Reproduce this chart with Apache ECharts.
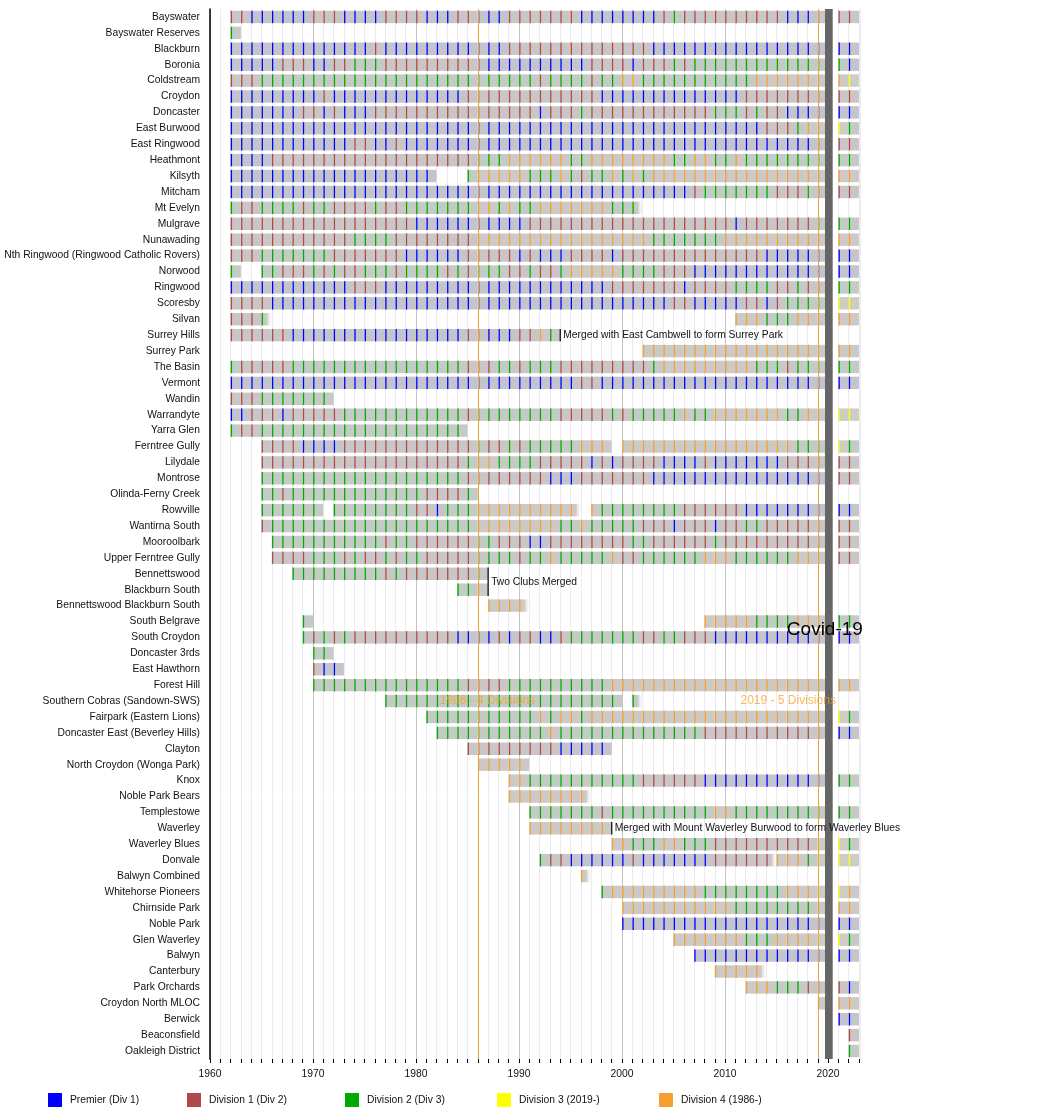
<!DOCTYPE html>
<html>
<head>
<meta charset="utf-8">
<script src="https://cdn.jsdelivr.net/npm/echarts@6/dist/echarts.min.js"></script>
<style>
  html, body {margin: 0; padding: 0; background: #fff;}
  #chart {width: 1050px; height: 1110px;}
</style>
</head>
<body>
<div id="chart"></div>
<script>
// club names, top to bottom
var clubs = ['Bayswater', 'Bayswater Reserves', 'Blackburn', 'Boronia', 'Coldstream', 'Croydon', 'Doncaster',
    'East Burwood', 'East Ringwood', 'Heathmont', 'Kilsyth', 'Mitcham', 'Mt Evelyn', 'Mulgrave', 'Nunawading',
    'Nth Ringwood (Ringwood Catholic Rovers)', 'Norwood', 'Ringwood', 'Scoresby', 'Silvan', 'Surrey Hills',
    'Surrey Park', 'The Basin', 'Vermont', 'Wandin', 'Warrandyte', 'Yarra Glen', 'Ferntree Gully', 'Lilydale',
    'Montrose', 'Olinda-Ferny Creek', 'Rowville', 'Wantirna South', 'Mooroolbark', 'Upper Ferntree Gully',
    'Bennettswood', 'Blackburn South', 'Bennettswood Blackburn South', 'South Belgrave', 'South Croydon',
    'Doncaster 3rds', 'East Hawthorn', 'Forest Hill', 'Southern Cobras (Sandown-SWS)', 'Fairpark (Eastern Lions)',
    'Doncaster East (Beverley Hills)', 'Clayton', 'North Croydon (Wonga Park)', 'Knox', 'Noble Park Bears',
    'Templestowe', 'Waverley', 'Waverley Blues', 'Donvale', 'Balwyn Combined', 'Whitehorse Pioneers',
    'Chirnside Park', 'Noble Park', 'Glen Waverley', 'Balwyn', 'Canterbury', 'Park Orchards',
    'Croydon North MLOC', 'Berwick', 'Beaconsfield', 'Oakleigh District'];

// first season of each club
var firstSeason = [1962, 1962, 1962, 1962, 1962, 1962, 1962, 1962, 1962, 1962, 1962, 1962, 1962, 1962, 1962,
    1962, 1962, 1962, 1962, 1962, 1962, 2002, 1962, 1962, 1962, 1962, 1962, 1965, 1965, 1965, 1965, 1965, 1965,
    1966, 1966, 1968, 1984, 1987, 1969, 1969, 1970, 1970, 1970, 1977, 1981, 1982, 1985, 1986, 1989, 1989,
    1991, 1991, 1999, 1992, 1996, 1998, 2000, 2000, 2005, 2007, 2009, 2012, 2019, 2021, 2022, 2022];

// season runs: division*count, P = Premier, 1-4 = Division 1-4, - = no team,
// C = 2020 (Covid, no season), ~ = the season before it fades out
var seasonRuns = [
    '1*2 P*6 1*3 P*4 1*4 P*3 1*2 P*3 1*7 P*8 1*1 2*1 1*10 P*3 1*1 C 1*2',
    '2*1',
    'P*14 1*1 P*12 1*14 P*17 C P*2',
    'P*5 1*3 P*2 1*2 2*3 1*9 P*11 1*4 P*1 1*3 2*1 1*1 2*13 C 2*1 P*1',
    '1*3 2*27 1*1 2*4 1*1 2*2 4*2 2*11 4*7 C 4*1 3*1',
    'P*9 1*1 P*13 1*13 P*14 1*8 C 1*2',
    'P*7 1*2 P*1 1*1 P*3 1*16 P*1 1*3 2*1 1*12 2*3 1*1 2*1 1*2 P*4 C P*2',
    'P*52 1*3 2*1 4*2 C 3*1 2*1',
    'P*12 1*2 P*2 1*1 P*40 1*1 C 1*2',
    'P*4 1*20 2*3 4*6 2*2 4*8 2*2 4*2 2*2 4*1 2*8 C 2*2',
    'P*20 -*3 2*1 4*5 2*3 4*1 2*1 1*1 2*2 4*1 2*1 4*1 2*1 4*17 C 4*2',
    'P*45 1*1 2*7 1*3 2*1 1*1 C 1*2',
    '2*1 1*2 2*4 1*1 2*2 1*4 2*1 1*2 2*7 4*2 2*1 4*1 2*2 4*7 2*3 ~',
    '1*18 P*11 1*20 P*1 1*7 2*1 C 2*2',
    '1*12 2*4 1*8 4*17 2*7 4*10 C 4*2',
    '1*3 2*7 1*7 P*6 1*5 P*1 1*1 P*3 1*4 P*1 1*14 P*6 C P*2',
    '2*1 -*2 2*2 1*3 2*1 1*1 2*1 1*2 2*3 1*1 2*4 1*1 2*1 1*1 2*3 1*2 2*1 1*2 2*1 4*5 2*4 1*3 P*13 C P*2',
    'P*12 1*3 P*22 1*7 P*1 1*4 2*4 1*2 2*1 1*2 C 2*2',
    '1*4 P*39 1*2 P*5 1*2 P*1 1*1 2*4 C 3*2',
    '1*3 2*1 ~ -*45 4*3 2*3 4*3 C 4*2',
    '1*6 P*17 1*2 P*3 1*2 4*1 2*1',
    '4*18 C 4*2',
    '2*1 1*5 2*17 1*3 2*2 1*1 2*3 1*9 2*1 4*9 2*3 1*1 2*3 C 2*2',
    'P*34 1*2 P*22 C P*2',
    '1*3 2*7',
    'P*2 1*3 P*1 1*5 2*12 1*1 2*8 1*5 2*1 1*1 2*5 4*1 2*2 4*7 2*2 4*2 C 3*2',
    '2*1 1*2 2*20',
    '1*4 P*4 1*13 2*1 1*2 2*1 1*1 2*5 4*3 -*1 4*17 2*3 C 3*1 2*1',
    '1*20 2*1 4*2 2*4 1*5 P*1 1*1 P*1 1*4 P*4 1*1 P*7 1*4 C 1*2',
    '2*20 1*8 P*3 1*7 P*17 C 1*2',
    '2*2 1*1 2*13 1*4 2*1',
    '2*6 -*1 2*8 1*2 P*1 2*3 4*10 ~ -*1 4*1 2*8 1*6 P*8 C P*2',
    '1*1 2*20 4*8 2*2 4*1 2*5 1*3 P*1 1*3 P*1 1*2 2*2 1*6 C 1*2',
    '2*11 1*1 2*2 1*6 2*2 1*3 P*2 1*8 2*2 1*6 2*1 1*10 C 1*2',
    '1*4 2*3 1*1 2*1 1*2 2*1 1*1 2*2 1*5 2*4 1*1 2*2 4*1 2*5 4*1 1*2 2*6 4*3 2*6 4*3 C 1*2',
    '2*9 1*1 2*1 1*7 2*1',
    '2*2 4*1',
    '4*4 ~',
    '2*1 -*38 4*5 2*4 4*3 C 2*2',
    '2*1 1*1 2*1 1*1 2*1 1*10 P*4 1*1 P*1 1*2 P*2 1*1 2*7 1*2 2*2 1*3 P*11 C P*2',
    '2*2',
    '1*1 P*2',
    '2*15 1*4 2*10 4*21 C 4*2',
    '2*23 -*1 2*1 ~',
    '2*11 4*1 2*1 4*2 2*1 4*23 C 3*1 2*1',
    '2*11 4*1 2*14 1*12 C P*2',
    '1*9 P*5',
    '4*5',
    '4*2 2*11 1*6 P*12 C 2*2',
    '4*8 ~',
    '2*7 1*1 2*10 4*2 2*9 C 2*2',
    '4*8',
    '4*2 2*3 4*2 2*3 1*10 3*1 C 3*1 2*1',
    '2*1 1*2 P*6 1*1 P*7 1*6 ~ 4*3 2*1 3*1 C 3*2',
    '4*1 ~',
    '2*1 4*9 2*8 4*3 3*1 C 3*1 4*1',
    '4*11 2*8 4*1 C 4*2',
    'P*20 C P*2',
    '4*7 2*3 4*4 3*1 C 3*1 2*1',
    'P*13 C P*2',
    '4*5 ~',
    '4*3 2*3 1*2 C 1*1 P*1',
    '4*1 C 4*2',
    'P*2',
    '1*1',
    '2*1'
];

var divisionNames = ['Premier (Div 1)', 'Division 1 (Div 2)', 'Division 2 (Div 3)', 'Division 3 (2019-)', 'Division 4 (1986-)'];
var divisionCodes = ['P', '1', '2', '3', '4'];

// merge notes: year of the line, first row, last row, text
var noteYears = [1994, 1987, 1999];
var noteFirstRow = ['Surrey Hills', 'Bennettswood', 'Waverley'];
var noteLastRow = ['Surrey Hills', 'Blackburn South', 'Waverley'];
var noteTexts = ['Merged with East Cambwell to form Surrey Park', 'Two Clubs Merged',
    'Merged with Mount Waverley Burwood to form Waverley Blues'];

// era lines and labels
var eraYears = [1986, 2019];
var eraLabels = ['1986 - 4 Divisions', '2019 - 5 Divisions'];
var eraLabelYears = [1982.3, 2011.5];
var covidSpan = [2019.7, 2020.45];

var divColors = ['#0000ff', '#b04a4a', '#00aa00', '#ffff00', '#f5a030'];
var legendLeft = [48, 187, 345, 497, 659];
var font = 'Liberation Sans, Arial, sans-serif';

function mix(hex, base, t) {
    var a = parseInt(hex.slice(1), 16), b = parseInt(base.slice(1), 16);
    var c = [16, 8, 0].map(s => Math.round(((a >> s) & 255) * t + ((b >> s) & 255) * (1 - t)));
    return 'rgb(' + c.join(',') + ')';
}

var seasons = [];
clubs.forEach((name, row) => {
    var year = firstSeason[row];
    seasonRuns[row].split(' ').forEach(tok => {
        if (tok === 'C') { year++; return; }
        if (tok === '~') { seasons[seasons.length - 1][3] = 1; return; }
        var parts = tok.split('*');
        for (var i = 0; i < +parts[1]; i++) {
            if (parts[0] !== '-') seasons.push([year, row, divisionCodes.indexOf(parts[0]), 0]);
            year++;
        }
    });
});

var notes = noteTexts.map((t, i) => [noteYears[i], clubs.indexOf(noteFirstRow[i]), clubs.indexOf(noteLastRow[i]), i]);

function renderSeason(params, api) {
    var year = api.value(0), row = api.value(1), div = api.value(2), fade = api.value(3);
    var p0 = api.coord([year, row]);
    var p1 = api.coord([year + (fade ? 1.1 : 1), row]);
    var h = api.size([0, 1])[1] * 0.78;
    var gray = mix(divColors[div], '#cbcbcb', 0.035);
    var fill = fade ? new echarts.graphic.LinearGradient(0, 0, 1, 0, [
        {offset: 0, color: gray}, {offset: 0.45, color: gray}, {offset: 1, color: 'rgba(255,255,255,0)'}]) : gray;
    return {
        type: 'group',
        children: [
            {type: 'rect', shape: {x: p0[0], y: p0[1] - h / 2, width: p1[0] - p0[0], height: h},
                style: {fill: fill}},
            {type: 'line', shape: {x1: p0[0] + 0.8, y1: p0[1] - h / 2, x2: p0[0] + 0.8, y2: p0[1] + h / 2},
                style: {stroke: divColors[div], lineWidth: 1.3}}
        ]
    };
}

function renderNote(params, api) {
    var year = api.value(0), r0 = api.value(1), r1 = api.value(2), i = api.value(3);
    var a = api.coord([year, r0]), b = api.coord([year, r1]);
    var h = api.size([0, 1])[1] * 0.78;
    return {
        type: 'group',
        children: [
            {type: 'line', shape: {x1: a[0], y1: a[1] - h / 2, x2: a[0], y2: b[1] + h / 2},
                style: {stroke: '#000', lineWidth: 1.2}},
            {type: 'text', x: a[0] + 3, y: (a[1] + b[1]) / 2,
                style: {text: noteTexts[i], fill: '#111', font: '10.3px ' + font, verticalAlign: 'middle', align: 'left'}}
        ]
    };
}

function renderLabels(params, api) {
    var row = clubs.indexOf('Southern Cobras (Sandown-SWS)');
    var children = eraLabels.map((t, i) => {
        var p = api.coord([eraLabelYears[i], row]);
        return {type: 'text', x: p[0], y: p[1], style: {text: t, fill: 'rgba(245,160,40,0.75)',
            font: '12px ' + font, verticalAlign: 'middle', align: 'left'}};
    });
    var c = api.coord([2016.0, clubs.indexOf('South Belgrave')]);
    children.push({type: 'text', x: c[0], y: c[1] + 8, style: {text: 'Covid-19', fill: '#000',
        font: '19px ' + font, verticalAlign: 'middle', align: 'left'}});
    return {type: 'group', children: children};
}

var series = [
    {
        type: 'custom', name: 'seasons', data: seasons, renderItem: renderSeason, silent: true, z: 2,
        encode: {x: 0, y: 1},
        markLine: {
            silent: true, symbol: 'none', z: 5,
            lineStyle: {color: '#eda23a', width: 1, type: 'solid', opacity: 1},
            label: {show: false},
            data: eraYears.map(y => ({xAxis: y}))
        },
        markArea: {
            silent: true, z: 6,
            itemStyle: {color: '#666666', opacity: 1},
            data: [[{xAxis: covidSpan[0]}, {xAxis: covidSpan[1]}]]
        }
    },
    {type: 'custom', name: 'notes', data: notes, renderItem: renderNote, silent: true, z: 7, encode: {x: 0, y: 1}},
    {type: 'custom', name: 'labels', data: [[2000, 0]], renderItem: renderLabels, silent: true, z: 8, encode: {x: 0, y: 1}}
];
divisionNames.forEach((n, i) => {
    series.push({type: 'line', name: n, data: [], itemStyle: {color: divColors[i]}});
});

// one legend block per division so each sits at its own column
var legends = divisionNames.map((n, i) => ({
    data: [{name: n, icon: 'rect'}],
    left: legendLeft[i], top: 1093, padding: 0, itemWidth: 14, itemHeight: 14,
    textStyle: {fontSize: 10.3, color: '#111', fontFamily: font, padding: [0, 0, 0, 3]},
    selectedMode: false
}));

var decadeColors = ['#c4c4c4', '#ececf0', '#ececf0', '#ececf0', '#ececf0', '#ececf0', '#ececf0', '#ececf0', '#ececf0', '#ececf0'];

var chart = echarts.init(document.getElementById('chart'), null, {renderer: 'canvas'});
chart.setOption({
    animation: false,
    textStyle: {fontFamily: font},
    grid: {left: 210, right: 190, top: 9, bottom: 51, outerBoundsMode: 'none', containLabel: false},
    legend: legends,
    xAxis: {
        type: 'value', min: 1960, max: 2023.1, interval: 1,
        axisLine: {lineStyle: {color: '#000', width: 1}},
        axisTick: {show: true, length: 4, lineStyle: {color: '#000'}},
        splitLine: {show: true, lineStyle: {color: decadeColors, width: 1}},
        axisLabel: {fontSize: 10.3, color: '#111', margin: 10, fontFamily: font, showMaxLabel: false,
            formatter: v => (v % 10 === 0 ? String(v) : '')}
    },
    yAxis: {
        type: 'category', data: clubs, inverse: true,
        axisLine: {show: true, lineStyle: {color: '#000', width: 1.5}},
        axisTick: {show: false},
        splitLine: {show: false},
        axisLabel: {fontSize: 10.3, color: '#111', margin: 10, fontFamily: font, interval: 0}
    },
    series: series
});
</script>
</body>
</html>
